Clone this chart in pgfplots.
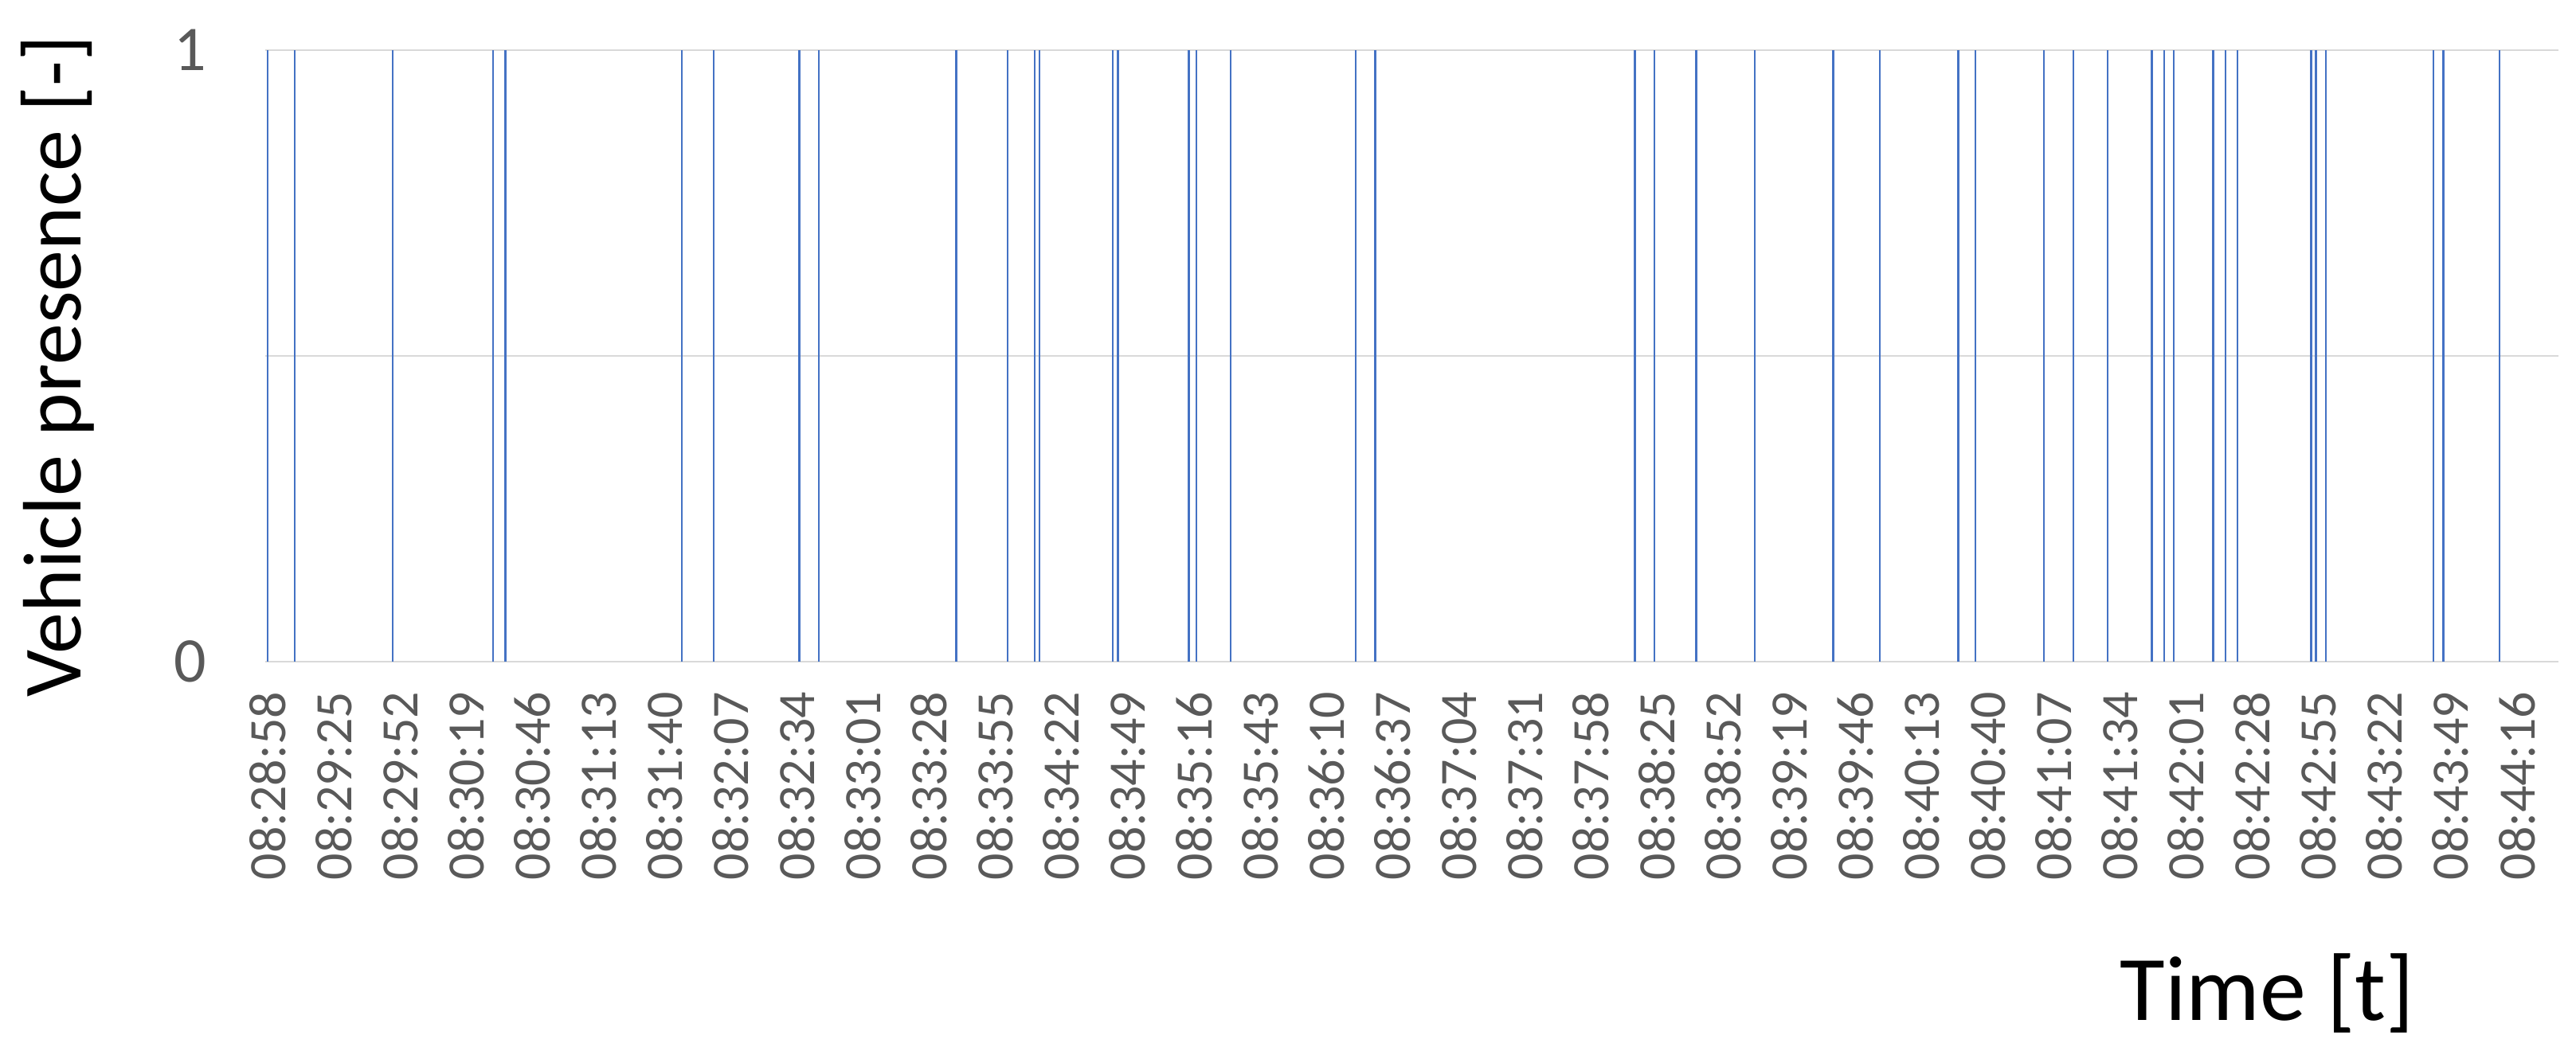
\documentclass[border=0pt]{standalone}
\usepackage{pgfplots}
\pgfplotsset{compat=1.18}
\usepackage{fontspec}
\setmainfont{Carlito}
\definecolor{exblue}{HTML}{4472C4}
\definecolor{gridgray}{HTML}{D9D9D9}
\definecolor{tickgray}{HTML}{595959}
\begin{document}
\begin{tikzpicture}
\begin{axis}[
  scale only axis,
  width=719.75pt, height=192pt,
  xmin=-1, xmax=935, ymin=0, ymax=1,
  axis x line*=bottom, axis y line*=left,
  y axis line style={draw=none},
  x axis line style={draw=gridgray, line width=0.6pt, -},
  major tick length=0pt,
  ytick={0,0.5,1}, yticklabels={0,{},1},
  ymajorgrids, grid style={draw=gridgray, line width=0.6pt},
  xtick={0,27,...,918},
  xticklabels={08:28:58,08:29:25,08:29:52,08:30:19,08:30:46,08:31:13,08:31:40,08:32:07,08:32:34,08:33:01,08:33:28,08:33:55,08:34:22,08:34:49,08:35:16,08:35:43,08:36:10,08:36:37,08:37:04,08:37:31,08:37:58,08:38:25,08:38:52,08:39:19,08:39:46,08:40:13,08:40:40,08:41:07,08:41:34,08:42:01,08:42:28,08:42:55,08:43:22,08:43:49,08:44:16},
  xticklabel style={rotate=90, anchor=east, font=\fontsize{16.5}{20}\selectfont, text=tickgray, xshift=-6pt},
  yticklabel style={font=\fontsize{20}{24}\selectfont, text=tickgray, xshift=-15pt},
  xlabel={Time [t]},
  ylabel={Vehicle presence [-]},
  xlabel style={at={(axis description cs:0.873,-0.542)}, anchor=center, font=\fontsize{29}{33}\selectfont},
  ylabel style={at={(axis description cs:-0.0907,0.483)}, anchor=center, font=\fontsize{26}{30}\selectfont},
  clip=false,
]
\addplot[ycomb, draw=exblue, line width=0.6pt, mark=none] coordinates {
(0,1) (11,1) (51,1) (92,1) (97,1) (169,1) (182,1) (217,1) (225,1) (281,1)
(302,1) (313,1) (315,1) (345,1) (347,1) (376,1) (379,1) (393,1) (444,1) (452,1)
(558,1) (566,1) (583,1) (607,1) (639,1) (658,1) (690,1) (697,1) (725,1) (737,1)
(751,1) (769,1) (774,1) (778,1) (794,1) (799,1) (804,1) (834,1) (836,1) (840,1)
(884,1) (888,1) (911,1)
};
\coordinate (bl) at (rel axis cs:-0.11566,-0.6367);
\coordinate (tr) at (rel axis cs:1.00764,1.082);
\end{axis}
\pgfresetboundingbox
\path[use as bounding box] (bl) rectangle (tr);
\end{tikzpicture}
\end{document}
